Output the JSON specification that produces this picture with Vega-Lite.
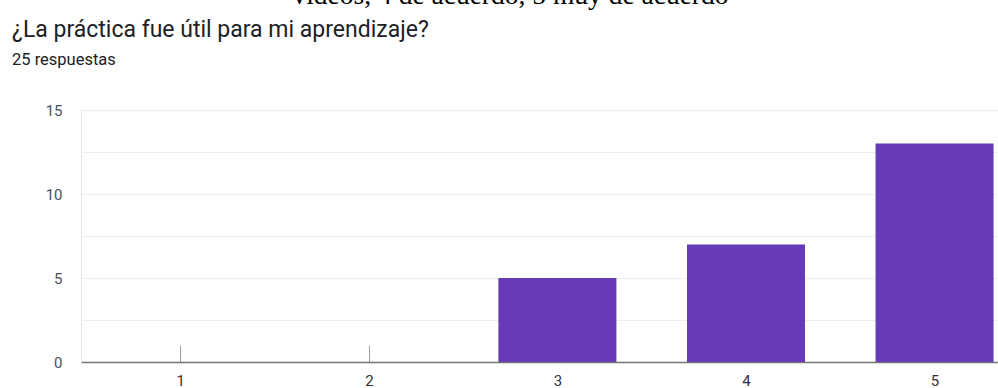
{
  "$schema": "https://vega.github.io/schema/vega-lite/v6.json",
  "width": 917,
  "height": 252,
  "autosize": "none",
  "padding": {"left": 81, "top": 110, "right": 0, "bottom": 26},
  "background": "white",
  "config": {"view": {"stroke": null}},
  "title": {
    "text": "¿La práctica fue útil para mi aprendizaje?",
    "subtitle": "25 respuestas",
    "anchor": "start",
    "frame": "group",
    "dx": -69,
    "offset": -87,
    "font": "Roboto",
    "fontSize": 23,
    "fontWeight": "normal",
    "color": "#202124",
    "subtitleFont": "Roboto",
    "subtitleFontSize": 16.5,
    "subtitleColor": "#202124",
    "subtitlePadding": 10
  },
  "data": {
    "values": [
      {"opcion": 1, "respuestas": 0},
      {"opcion": 2, "respuestas": 0},
      {"opcion": 3, "respuestas": 5},
      {"opcion": 4, "respuestas": 7},
      {"opcion": 5, "respuestas": 13}
    ]
  },
  "mark": {"type": "bar", "size": 118, "color": "#673ab7"},
  "encoding": {
    "x": {
      "field": "opcion",
      "type": "quantitative",
      "scale": {"domain": [0.5, 5.31], "nice": false, "zero": false},
      "axis": {
        "values": [1, 2, 3, 4, 5],
        "format": "d",
        "title": null,
        "grid": false,
        "tickSize": -17,
        "tickColor": "#9e9e9e",
        "tickWidth": 1,
        "domainColor": "#757575",
        "domainWidth": 1.5,
        "labelFont": "Roboto",
        "labelFontSize": 15,
        "labelColor": "#333333",
        "labelPadding": 28
      }
    },
    "y": {
      "field": "respuestas",
      "type": "quantitative",
      "scale": {"domain": [0, 15], "nice": false},
      "axis": {
        "values": [0, 2.5, 5, 7.5, 10, 12.5, 15],
        "labelExpr": "datum.value % 5 === 0 ? datum.label : ''",
        "grid": true,
        "gridColor": "#eeeeee",
        "ticks": false,
        "tickSize": 0,
        "domain": true,
        "domainColor": "#e6e6e6",
        "labelPadding": 19,
        "labelFont": "Roboto",
        "labelFontSize": 15,
        "labelColor": "#4d4d4d",
        "title": "videos, 4 de acuerdo, 5 muy de acuerdo",
        "titleAngle": 0,
        "titleX": 429,
        "titleY": -107,
        "titleAlign": "center",
        "titleBaseline": "alphabetic",
        "titleFont": "Liberation Serif",
        "titleFontSize": 27.5,
        "titleFontWeight": "normal",
        "titleColor": "#000000"
      }
    }
  }
}
